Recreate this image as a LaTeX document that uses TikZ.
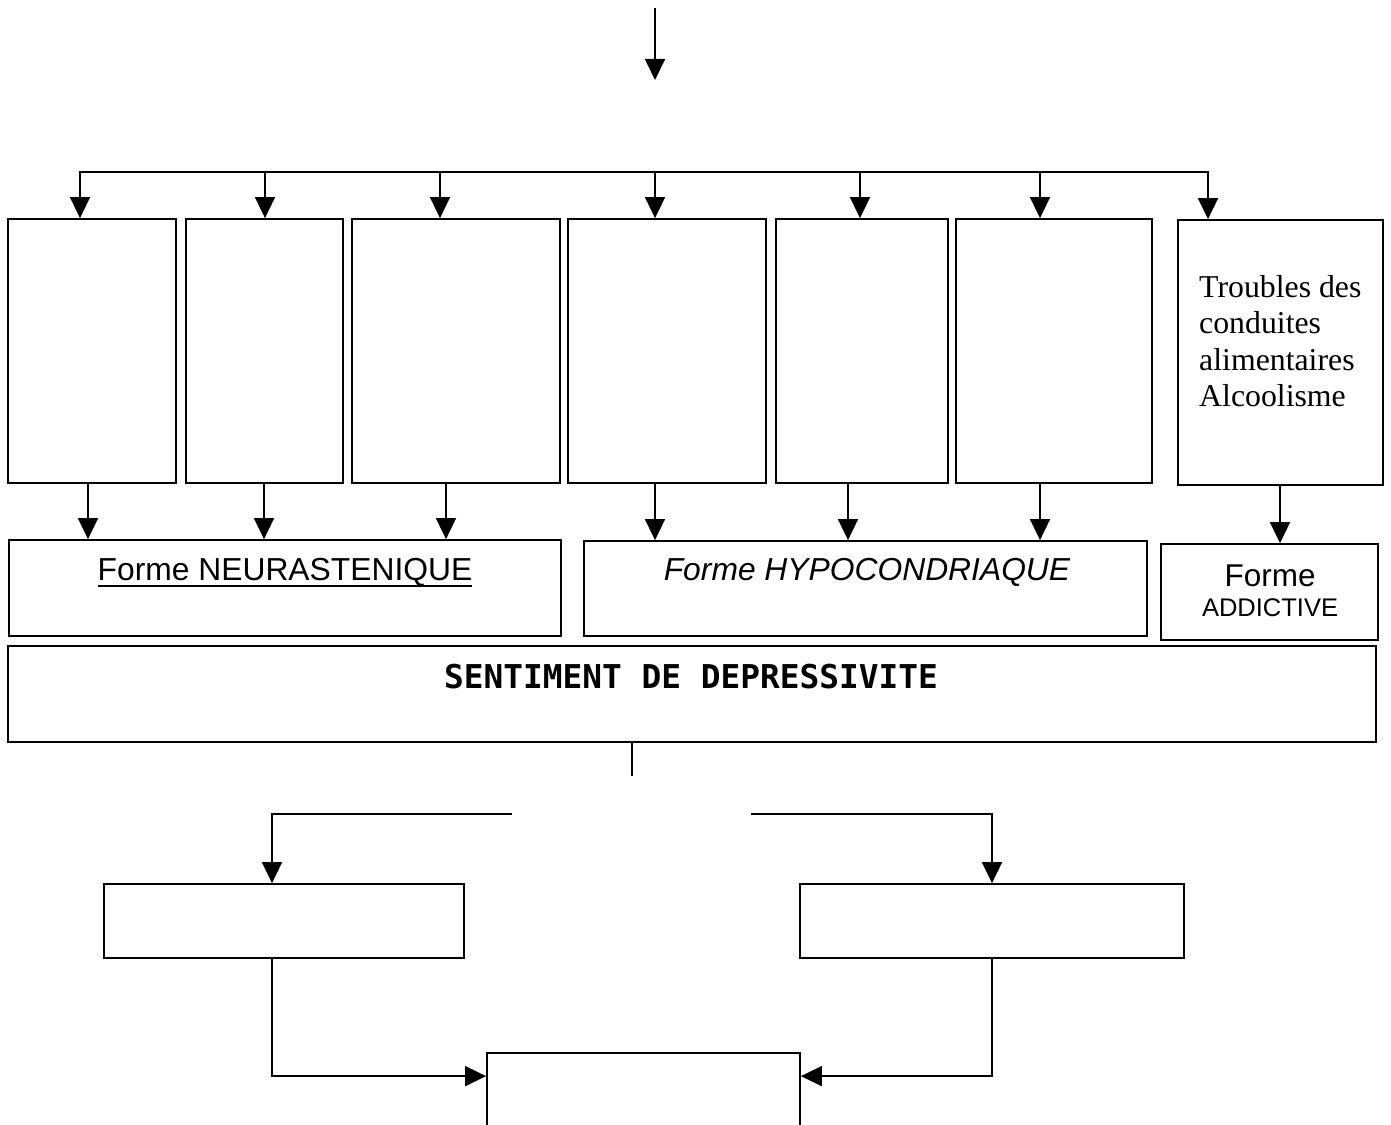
\documentclass[tikz,border=0pt]{standalone}
\usepackage{fontspec}
\setmainfont{Liberation Serif}
\newfontfamily\arialf{Liberation Sans}
\newfontfamily\monof{DejaVu Sans Mono}
\usetikzlibrary{arrows.meta}

\tikzset{
  box/.style={draw, line width=1.8pt, inner sep=0pt},
  link/.style={line width=1.8pt},
  arr/.style={link, -{Triangle[length=21pt,width=20pt]}},
  txt/.style={inner sep=0pt, anchor=base},
}

\begin{document}
\begin{tikzpicture}[x=1pt,y=-1pt]
\useasboundingbox (0,0) rectangle (1391,1124);
\clip (0,0) rectangle (1391,1124);

% upper row of tall boxes
\node[box, minimum width=168pt, minimum height=264pt] (b1) at (92,351) {};
\node[box, minimum width=157pt, minimum height=264pt] (b2) at (264.5,351) {};
\node[box, minimum width=208pt, minimum height=264pt] (b3) at (456,351) {};
\node[box, minimum width=198pt, minimum height=264pt] (b4) at (667,351) {};
\node[box, minimum width=172pt, minimum height=264pt] (b5) at (862,351) {};
\node[box, minimum width=196pt, minimum height=264pt] (b6) at (1054,351) {};
\node[box, minimum width=205pt, minimum height=265pt] (b7) at (1280.5,352.5) {};
\node[anchor=north west, align=left, inner sep=0pt,
      font=\fontsize{31.8}{36.5}\selectfont] (b7t) at (1199,275)
  {Troubles des\\conduites\\alimentaires\\Alcoolisme};

% forms
\node[box, minimum width=552pt, minimum height=96pt] (f1) at (285,588) {};
\node[box, minimum width=563pt, minimum height=95pt] (f2) at (865.5,588.5) {};
\node[box, minimum width=217pt, minimum height=96pt] (f3) at (1269.5,592) {};
\node[txt, font=\arialf\fontsize{31.8}{36}\selectfont] (f1t) at (285,580) {Forme NEURASTENIQUE};
\draw[line width=1.8pt] ([yshift=-6pt]f1t.base west) -- ([yshift=-6pt]f1t.base east);
\node[txt, font=\arialf\itshape\fontsize{31.8}{36}\selectfont] (f2t) at (867,580) {Forme HYPOCONDRIAQUE};
\node[txt, font=\arialf\fontsize{31.5}{36}\selectfont] (f3a) at (1270,586) {Forme};
\node[txt, font=\arialf\fontsize{25.5}{30}\selectfont] (f3b) at (1270,616) {ADDICTIVE};

% common feeling
\node[box, minimum width=1368pt, minimum height=96pt] (sent) at (692,694) {};
\node[txt, font=\monof\bfseries\fontsize{32.8}{38}\selectfont] (sentt) at (691,688) {SENTIMENT DE DEPRESSIVITE};

% lower boxes
\node[box, minimum width=360pt, minimum height=74pt] (lbox) at (284,921) {};
\node[box, minimum width=384pt, minimum height=74pt] (rbox) at (992,921) {};
\node[box, minimum width=313pt, minimum height=100pt] (bot) at (643.5,1103) {};

% incoming arrow
\coordinate (src) at (655,8);
\coordinate (srcend) at (655,80);
\draw[arr] (src) -- (srcend);

% distribution bus
\coordinate (t1) at (80,172);
\coordinate (t2) at (265,172);
\coordinate (t3) at (440,172);
\coordinate (t4) at (655,172);
\coordinate (t5) at (860,172);
\coordinate (t6) at (1040,172);
\coordinate (t7) at (1208,172);
\draw[link, line cap=rect] (t1) -- (t7);
\foreach \i in {1,...,7} \draw[arr] (t\i) -- (t\i |- b\i.north);

% arrows into the forms
\coordinate (d1) at (88,0);
\coordinate (d2) at (264,0);
\coordinate (d3) at (446,0);
\coordinate (d4) at (655,0);
\coordinate (d5) at (848,0);
\coordinate (d6) at (1040,0);
\coordinate (d7) at (1280,0);
\draw[arr] (b1.south -| d1) -- (f1.north -| d1);
\draw[arr] (b2.south -| d2) -- (f1.north -| d2);
\draw[arr] (b3.south -| d3) -- (f1.north -| d3);
\draw[arr] (b4.south -| d4) -- (f2.north -| d4);
\draw[arr] (b5.south -| d5) -- (f2.north -| d5);
\draw[arr] (b6.south -| d6) -- (f2.north -| d6);
\draw[arr] (b7.south -| d7) -- (f3.north -| d7);

% split below the feeling box
\coordinate (stem) at (632,776);
\draw[link] (sent.south -| stem) -- (stem);
\coordinate (lstart) at (512,814);
\coordinate (rstart) at (751,814);
\coordinate (lx) at (272,0);
\draw[arr] (lstart) -| (lbox.north -| lx);
\draw[arr] (rstart) -| (rbox.north);

% merge into the last box
\draw[arr] (lbox.south -| lx) |- ([yshift=-24pt]bot.north west);
\draw[arr] (rbox.south) |- ([yshift=-24pt]bot.north east);
\end{tikzpicture}
\end{document}
